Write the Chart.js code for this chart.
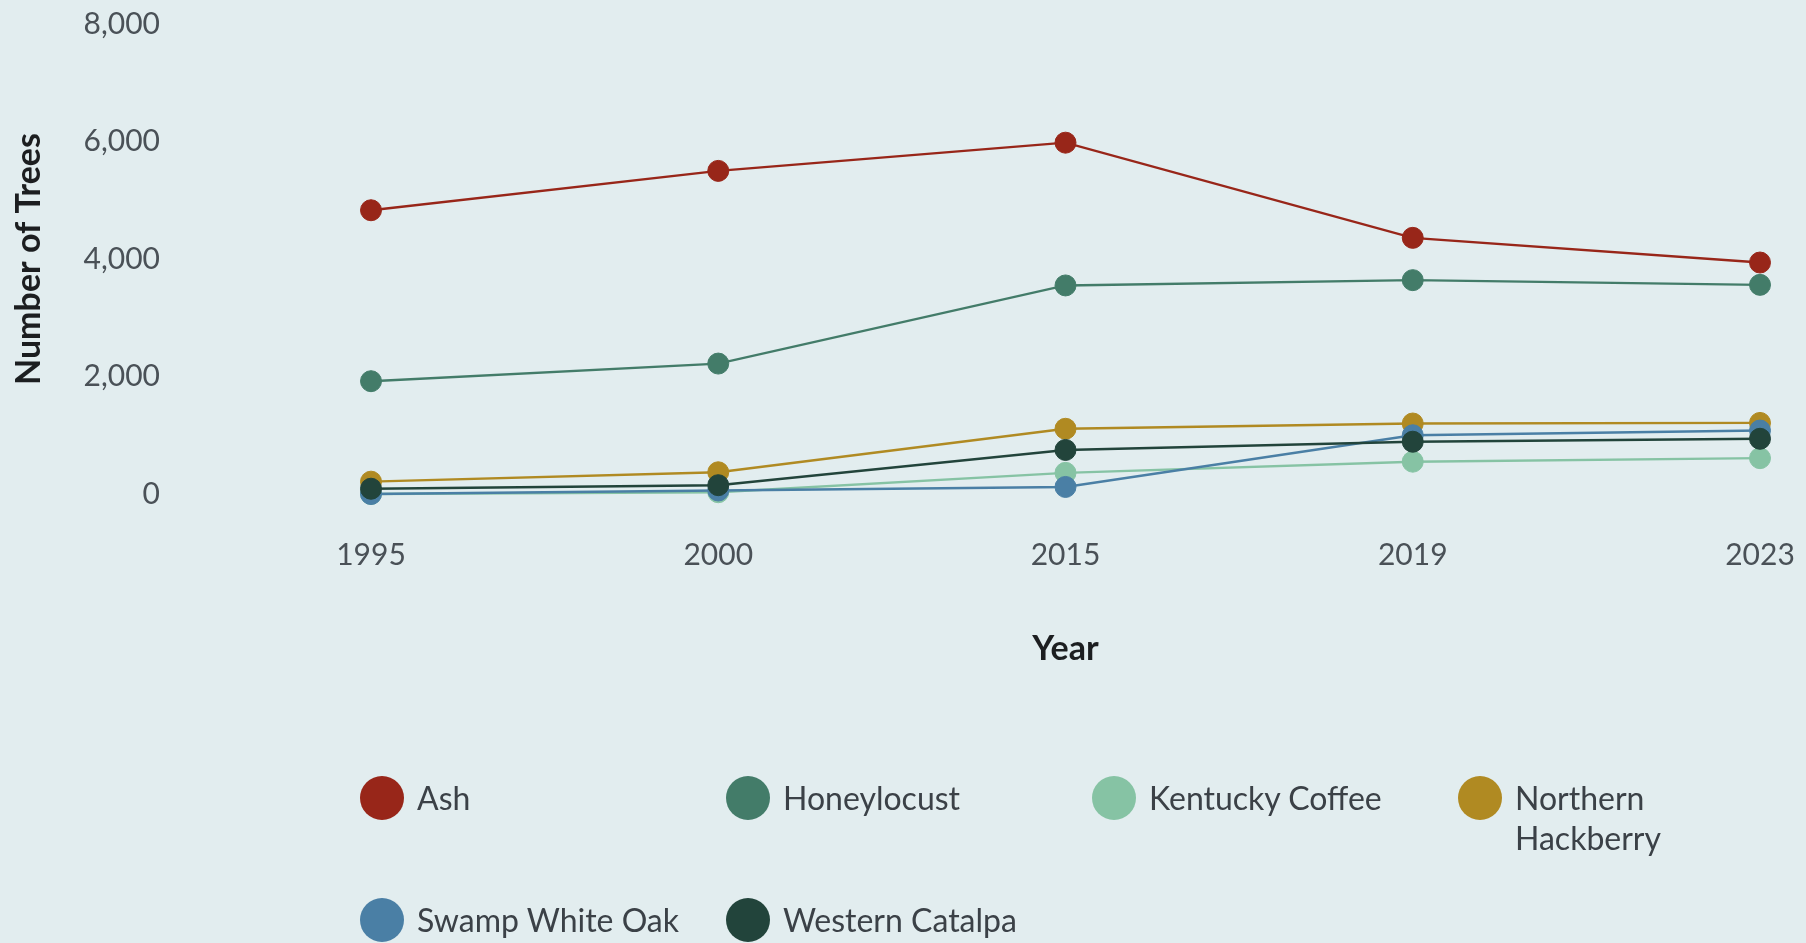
<!DOCTYPE html>
<html>
<head>
<meta charset="utf-8">
<title>Number of Trees by Year</title>
<script src="https://cdn.jsdelivr.net/npm/chart.js@4.4.1/dist/chart.umd.min.js"></script>
<style>
  html, body {
    margin: 0;
    padding: 0;
    background: #e2edef;
    overflow: hidden;
  }
  #wrap {
    position: relative;
    width: 1806px;
    height: 943px;
  }
  #legend {
    position: absolute;
    left: 360px;
    top: 776px;
    display: grid;
    grid-template-columns: 366px 366px 366px 300px;
    grid-auto-rows: 122px;
    font-family: Lato, "Open Sans", sans-serif;
    font-size: 32px;
    color: #3b4147;
  }
  .item {
    display: flex;
    align-items: flex-start;
    min-width: 0;
  }
  .dot {
    width: 44px;
    height: 44px;
    border-radius: 50%;
    flex: none;
    margin-right: 13px;
  }
  .txt {
    line-height: 40px;
    margin-top: 2px;
  }
</style>
</head>
<body>
<div id="wrap">
  <canvas id="chart" width="1806" height="943"></canvas>
  <div id="legend"></div>
</div>
<script>
// x axis categories
const years = ['1995', '2000', '2015', '2019', '2023'];

// y axis ticks
const yTicks = [0, 2000, 4000, 6000, 8000];

// tree counts per species
const ash = [4830, 5500, 5980, 4360, 3940];
const honeylocust = [1920, 2220, 3550, 3640, 3560];
const kentuckyCoffee = [0, 30, 360, 550, 610];
const northernHackberry = [210, 370, 1110, 1200, 1210];
const swampWhiteOak = [0, 60, 120, 1000, 1080];
const westernCatalpa = [90, 150, 750, 890, 940];

const speciesNames = ['Ash', 'Honeylocust', 'Kentucky Coffee', 'Northern Hackberry', 'Swamp White Oak', 'Western Catalpa'];
const speciesValues = [ash, honeylocust, kentuckyCoffee, northernHackberry, swampWhiteOak, westernCatalpa];
const speciesColors = ['#982619', '#437c69', '#86c3a4', '#b08a22', '#4a7fa5', '#22443b'];

const tickFont = { family: 'Lato', size: 30 };
const titleFont = { family: 'Lato', size: 34, weight: 'bold' };

const datasets = speciesNames.map(function (name, i) {
  return {
    label: name,
    data: speciesValues[i],
    borderColor: speciesColors[i],
    backgroundColor: speciesColors[i],
    pointBackgroundColor: speciesColors[i],
    pointBorderColor: speciesColors[i],
    borderWidth: 2.4,
    pointRadius: 10.5,
    pointBorderWidth: 1,
    tension: 0,
    clip: false,
    // later species are painted on top
    order: speciesNames.length - 1 - i
  };
});

new Chart(document.getElementById('chart'), {
  type: 'line',
  data: { labels: years, datasets: datasets },
  options: {
    responsive: false,
    animation: false,
    layout: { padding: { top: 24, right: 46, bottom: 274, left: 0 } },
    plugins: {
      legend: { display: false },
      tooltip: { enabled: false }
    },
    scales: {
      x: {
        grid: { display: false, drawTicks: false },
        border: { display: false },
        ticks: { font: tickFont, color: '#4a5157', padding: 43, maxRotation: 0 },
        title: { display: true, text: 'Year', font: titleFont, color: '#1c1e20', padding: 0 },
        afterFit: function (scale) {
          scale.height = 175;
          // tick padding would otherwise squeeze the plot sideways
          scale.paddingLeft = 0;
          scale.paddingRight = 0;
        }
      },
      y: {
        min: yTicks[0],
        max: yTicks[yTicks.length - 1],
        grid: { display: false, drawTicks: false },
        border: { display: false },
        afterBuildTicks: function (scale) {
          scale.ticks = yTicks.map(function (v) { return { value: v }; });
        },
        ticks: {
          font: tickFont,
          color: '#4a5157',
          padding: 211,
          callback: function (v) { return Number(v).toLocaleString('en-US'); }
        },
        title: { display: true, text: 'Number of Trees', font: titleFont, color: '#1c1e20', padding: { top: 9, bottom: 0 } },
        afterFit: function (scale) {
          scale.width = 371;
          scale.paddingTop = 0;
          scale.paddingBottom = 0;
        }
      }
    }
  }
});

// legend laid out as a four column grid like the original
const legend = document.getElementById('legend');
speciesNames.forEach(function (name, i) {
  const item = document.createElement('div');
  item.className = 'item';
  const dot = document.createElement('span');
  dot.className = 'dot';
  dot.style.background = speciesColors[i];
  const txt = document.createElement('span');
  txt.className = 'txt';
  txt.textContent = name;
  item.appendChild(dot);
  item.appendChild(txt);
  legend.appendChild(item);
});
</script>
</body>
</html>
